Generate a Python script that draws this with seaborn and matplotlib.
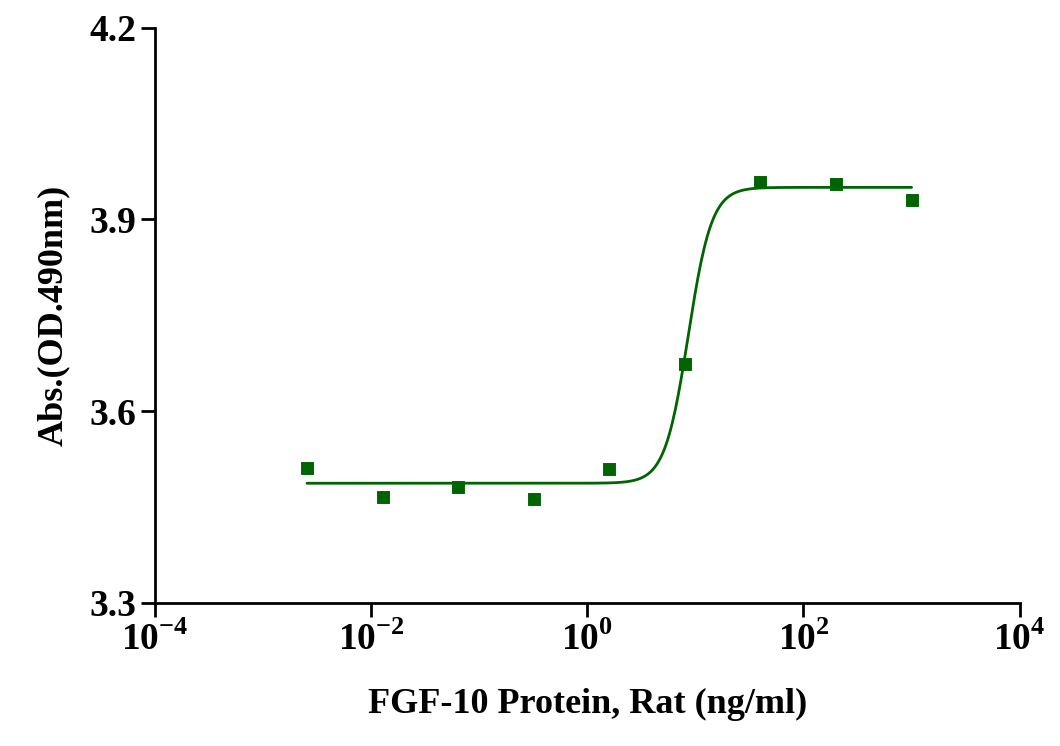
import numpy as np
import matplotlib.pyplot as plt
import seaborn as sns

sns.set_theme(style="ticks")
plt.rcParams['font.family'] = ['Liberation Serif', 'DejaVu Serif']
plt.rcParams['font.weight'] = 'bold'
plt.rcParams['mathtext.fontset'] = 'custom'
plt.rcParams['mathtext.rm'] = 'Liberation Serif:bold'
plt.rcParams['mathtext.bf'] = 'Liberation Serif:bold'
plt.rcParams['text.color'] = 'black'
plt.rcParams['axes.labelcolor'] = 'black'
plt.rcParams['xtick.color'] = 'black'
plt.rcParams['ytick.color'] = 'black'
plt.rcParams['axes.edgecolor'] = 'black'

# Dados
concentracao = [0.00256, 0.0128, 0.064, 0.32, 1.6, 8, 40, 200, 1000]
absorbancia = [3.511, 3.466, 3.481, 3.463, 3.509, 3.673, 3.958, 3.956, 3.930]

# Parâmetros do ajuste (4PL)
fundo, topo, ec50, hill = 3.487, 3.950, 8.6, 4.0

xs = np.logspace(np.log10(concentracao[0]), np.log10(concentracao[-1]), 400)
ys = fundo + (topo - fundo) / (1 + (ec50 / xs) ** hill)

fig, ax = plt.subplots(figsize=(10.6, 7.46), dpi=100)
cor = '#006400'
sns.lineplot(x=xs, y=ys, color=cor, linewidth=2, ax=ax)
sns.scatterplot(x=concentracao, y=absorbancia, color=cor, marker='s', s=70,
                edgecolor=cor, ax=ax)

ax.set_xscale('log')
ax.set_xlim(1e-4, 1e4)
ax.set_ylim(3.3, 4.2)
ax.set_yticks([3.3, 3.6, 3.9, 4.2])
ax.set_yticklabels(['3.3', '3.6', '3.9', '4.2'])
ax.set_xticks([1e-4, 1e-2, 1e0, 1e2, 1e4])
ax.set_xticklabels(['$10^{-4}$', '$10^{-2}$', '$10^{0}$', '$10^{2}$', '$10^{4}$'])
ax.tick_params(axis='both', which='major', labelsize=27, width=2, length=10, direction='out')
ax.tick_params(axis='x', which='minor', width=1.5, length=6, direction='out')
for lado in ['top', 'right']:
    ax.spines[lado].set_visible(False)
for lado in ['left', 'bottom']:
    ax.spines[lado].set_linewidth(2)

ax.set_xlabel('FGF-10 Protein, Rat (ng/ml)', fontsize=26, fontweight='bold', labelpad=22)
ax.set_ylabel('Abs.(OD.490nm)', fontsize=26, fontweight='bold', labelpad=14)

plt.subplots_adjust(left=0.146, right=0.962, top=0.963, bottom=0.192)
plt.savefig('out.png', dpi=100)
